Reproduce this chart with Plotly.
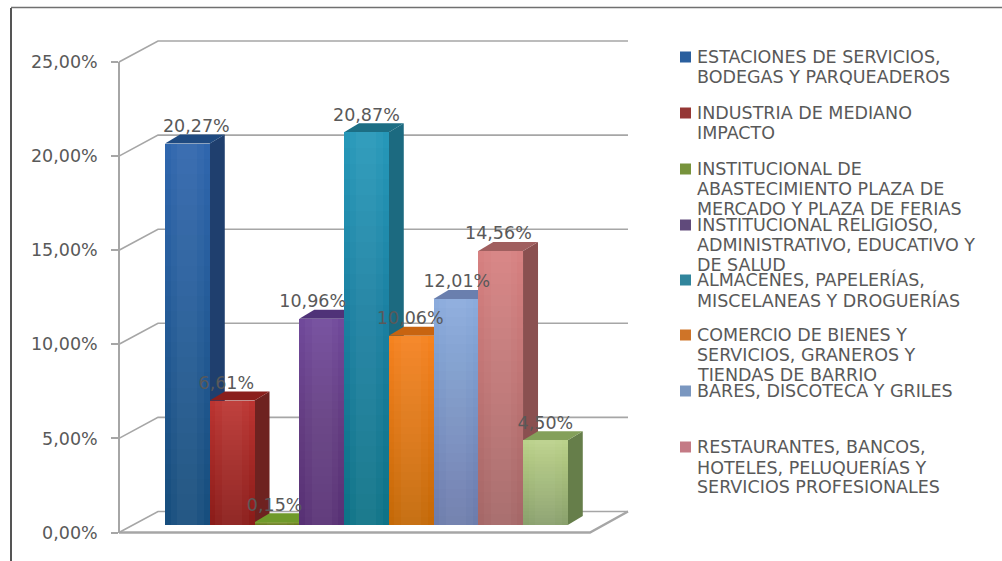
import plotly.graph_objects as go

# ---------- data ----------
categories = [
    "ESTACIONES DE SERVICIOS,<br>BODEGAS Y PARQUEADEROS",
    "INDUSTRIA DE MEDIANO<br>IMPACTO",
    "INSTITUCIONAL DE<br>ABASTECIMIENTO PLAZA DE<br>MERCADO Y PLAZA DE FERIAS",
    "INSTITUCIONAL RELIGIOSO,<br>ADMINISTRATIVO, EDUCATIVO Y<br>DE SALUD",
    "ALMACENES, PAPELERÍAS,<br>MISCELANEAS Y DROGUERÍAS",
    "COMERCIO DE BIENES Y<br>SERVICIOS, GRANEROS Y<br>TIENDAS DE BARRIO",
    "BARES, DISCOTECA Y GRILES",
    "RESTAURANTES, BANCOS,<br>HOTELES, PELUQUERÍAS Y<br>SERVICIOS PROFESIONALES",
]
values = [20.27, 6.61, 0.15, 10.96, 20.87, 10.06, 12.01, 14.56, 4.50]
tick_values = [0, 5, 10, 15, 20, 25]
label_dx = [0.2, -0.13, -0.05, -0.2, 0, -0.02, 0.02, -0.05, 0]

front_colors = ["#2f66ad", "#bb3431", "#7f9f34", "#70499a", "#2697b8", "#f5831f", "#8babdc", "#d68181", "#bad18b"]
side_colors = ["#1f3f6e", "#6e2220", "#5f7a28", "#402a5c", "#1c6a80", "#b05a10", "#5f7aa5", "#8a5050", "#667e4a"]
top_colors = ["#1f4a80", "#8a1f1c", "#6f9a2a", "#4f3278", "#1c6e84", "#c86410", "#6a7fae", "#a05f5f", "#84a05a"]
legend_colors = ["#2a5f9e", "#953735", "#77933c", "#604a7b", "#31859c", "#cf7428", "#7a97c0", "#c47a85"]

# ---------- geometry (pixels of the 1002x561 page) ----------
W, H = 1002, 561
BAR_W = 44.75
X0 = 187.4
S = 18.82
BASE = 525.0
GREY = "#a6a6a6"
TEXT = "#595959"
FONT = "DejaVu Sans"
SHADE_STEPS = 24
LINE_PITCH = 20


def xd(px):
    return (px - X0) / BAR_W


def yd(px):
    return (BASE - px) / S


def pct(v):
    return f"{v:.2f}".replace(".", ",") + "%"


DX = 15 / BAR_W
DY = 9 / S
XF, XB, XR, XFR = xd(119), xd(158), xd(628), xd(590)
YF = yd(532.5)
YB = yd(511.5)
x_range = [xd(0), xd(W)]
y_range = [yd(H), yd(0)]

fig = go.Figure()

# wall gridlines + floor
gx, gy = [], []
for t in tick_values:
    gx += [XF, XB, XR, None]
    gy += [YF + t, YB + t, YB + t, None]
fig.add_trace(go.Scatter(x=gx, y=gy, mode="lines", line=dict(color=GREY, width=1.6), hoverinfo="skip", showlegend=False))
fig.add_trace(go.Scatter(x=[XF, XFR, XR], y=[YF, YF, YB], mode="lines", line=dict(color=GREY, width=2.4),
                         hoverinfo="skip", showlegend=False))

# depth faces of the bars, back subplot
for i, v in enumerate(values):
    l, r = i - 0.5, i + 0.5
    fig.add_trace(go.Scatter(x=[r, r + DX, r + DX, r, r], y=[0, DY, v + DY, v, 0], mode="lines", fill="toself",
                             fillcolor=side_colors[i], line=dict(width=0), hoverinfo="skip", showlegend=False))
    fig.add_trace(go.Scatter(x=[l, r, r + DX, l + DX, l], y=[v, v, v + DY, v + DY, v], mode="lines", fill="toself",
                             fillcolor=top_colors[i], line=dict(width=0), hoverinfo="skip", showlegend=False))

# front faces, overlay subplot
xs = list(range(len(values)))
fig.add_trace(go.Bar(x=xs, y=values, width=1, marker=dict(color=front_colors, line=dict(width=0)),
                     xaxis="x2", yaxis="y2", hoverinfo="skip", showlegend=False))
for k in range(1, SHADE_STEPS + 1):
    fig.add_trace(go.Bar(x=xs, y=[v * (1 - k / (SHADE_STEPS + 1)) for v in values], width=1,
                         marker=dict(color="rgba(0,0,0,0.0095)", line=dict(width=0)),
                         xaxis="x2", yaxis="y2", hoverinfo="skip", showlegend=False))
for wd in (0.75, 0.45):
    fig.add_trace(go.Bar(x=xs, y=values, width=wd, marker=dict(color="rgba(255,255,255,0.03)", line=dict(width=0)),
                         xaxis="x2", yaxis="y2", hoverinfo="skip", showlegend=False))

# data labels
fig.add_trace(go.Scatter(x=[i + d for i, d in zip(xs, label_dx)], y=[v + 0.85 for v in values], mode="text",
                         text=[pct(v) for v in values],
                         textposition="middle center", textfont=dict(family=FONT, size=17.5, color=TEXT),
                         xaxis="x2", yaxis="y2", cliponaxis=False, hoverinfo="skip", showlegend=False))

# real value axis on the front plane
fig.add_trace(go.Scatter(x=[XF] * len(tick_values), y=tick_values, mode="lines", opacity=0, yaxis="y3",
                         hoverinfo="skip", showlegend=False))

# legend markers + text, one text per line for the tight line pitch of the original
leg_py = [57, 113, 169, 225, 280, 335, 391, 447]
fig.add_trace(go.Scatter(x=[xd(685.5)] * 8, y=[yd(p) for p in leg_py], mode="markers",
                         marker=dict(symbol="square", size=11, color=legend_colors, line=dict(width=0)),
                         xaxis="x2", yaxis="y2", hoverinfo="skip", showlegend=False))
annotations = []
for c, p in zip(categories, leg_py):
    for n, line in enumerate(c.split("<br>")):
        annotations.append(dict(xref="paper", yref="paper", x=695 / W, y=1 - (p + n * LINE_PITCH) / H,
                                xanchor="left", yanchor="middle", align="left", text=line, showarrow=False,
                                font=dict(family=FONT, size=17.5, color=TEXT)))

# image border
shapes = [
    dict(type="line", xref="paper", yref="paper", x0=11 / W, x1=11 / W, y0=0, y1=1 - 8 / H,
         line=dict(color="#555555", width=2)),
    dict(type="line", xref="paper", yref="paper", x0=11 / W, x1=1, y0=1 - 7.5 / H, y1=1 - 7.5 / H,
         line=dict(color="#707070", width=1.5)),
]

hidden = dict(visible=False, showgrid=False, zeroline=False)
fig.update_layout(
    width=W, height=H, margin=dict(l=0, r=0, t=0, b=0, autoexpand=False), autosize=False,
    paper_bgcolor="white", plot_bgcolor="rgba(0,0,0,0)", barmode="overlay", bargap=0, showlegend=False,
    xaxis=dict(range=x_range, domain=[0, 1], **hidden),
    yaxis=dict(range=y_range, domain=[0, 1], **hidden),
    xaxis2=dict(range=x_range, overlaying="x", domain=[0, 1], **hidden),
    yaxis2=dict(range=y_range, overlaying="y", domain=[0, 1], **hidden),
    yaxis3=dict(range=[0, 25], domain=[1 - 532.5 / H, 1 - 62 / H], anchor="free", position=119 / W, side="left",
                tickmode="array", tickvals=tick_values, ticktext=[pct(t) for t in tick_values],
                ticks="outside", ticklen=7, tickcolor=GREY, tickwidth=1.6, ticklabelstandoff=10,
                showline=True, linecolor=GREY, linewidth=1.6, showgrid=False, zeroline=False,
                tickfont=dict(family=FONT, size=17.5, color=TEXT)),
    annotations=annotations,
    shapes=shapes,
)
fig.write_html("out.html", post_script="document.body.style.margin='0';document.documentElement.style.overflow='hidden';",
               config={"displayModeBar": False})
